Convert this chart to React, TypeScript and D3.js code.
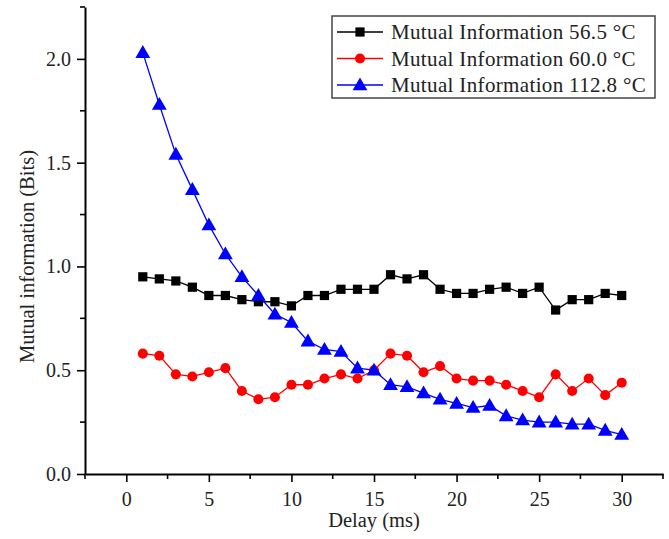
import React, { useEffect, useRef } from "react";
import * as d3 from "d3";

const delays = [1, 2, 3, 4, 5, 6, 7, 8, 9, 10, 11, 12, 13, 14, 15, 16, 17, 18, 19, 20, 21, 22, 23, 24, 25, 26, 27, 28, 29, 30];

const mi565 = [0.95, 0.94, 0.93, 0.9, 0.86, 0.86, 0.84, 0.83, 0.83, 0.81, 0.86, 0.86, 0.89, 0.89, 0.89, 0.96, 0.94, 0.96, 0.89, 0.87, 0.87, 0.89, 0.9, 0.87, 0.9, 0.79, 0.84, 0.84, 0.87, 0.86];
const mi600 = [0.58, 0.57, 0.48, 0.47, 0.49, 0.51, 0.4, 0.36, 0.37, 0.43, 0.43, 0.46, 0.48, 0.46, 0.5, 0.58, 0.57, 0.49, 0.52, 0.46, 0.45, 0.45, 0.43, 0.4, 0.37, 0.48, 0.4, 0.46, 0.38, 0.44];
const mi1128 = [2.03, 1.78, 1.54, 1.37, 1.2, 1.06, 0.95, 0.86, 0.77, 0.73, 0.64, 0.6, 0.59, 0.51, 0.5, 0.43, 0.42, 0.39, 0.36, 0.34, 0.32, 0.33, 0.28, 0.26, 0.25, 0.25, 0.24, 0.24, 0.21, 0.19];

const seriesNames = ["Mutual Information 56.5 °C", "Mutual Information 60.0 °C", "Mutual Information 112.8 °C"];
const seriesColors = ["#000000", "#ff0000", "#0000ff"];
const seriesSymbols = [d3.symbolSquare, d3.symbolCircle, d3.symbolTriangle];
const seriesSizes = [85, 80, 95];

const xMajor = [0, 5, 10, 15, 20, 25, 30];
const xMinor = [-2.5, 2.5, 7.5, 12.5, 17.5, 22.5, 27.5, 32.5];
const yMajor = [0, 0.5, 1.0, 1.5, 2.0];
const yMinor = [0.25, 0.75, 1.25, 1.75, 2.25];

const W = 669;
const H = 539;
const FONT = "'Liberation Serif', 'Times New Roman', serif";

export default function App() {
  const svgRef = useRef<SVGSVGElement>(null);

  useEffect(() => {
    const svg = d3.select(svgRef.current);
    svg.selectAll("*").remove();

    const x = d3.scaleLinear().domain([-2.5, 32.5]).range([85, 663]);
    const y = d3.scaleLinear().domain([0, 2.25]).range([474, 7]);

    // axes
    const xAxis = svg.append("g").attr("transform", `translate(0,${y(0)})`);
    xAxis.call(d3.axisBottom(x).tickValues(xMajor).tickSize(8).tickSizeOuter(0).tickFormat(d3.format("d")));
    xMinor.forEach((v) => {
      xAxis.append("line").attr("x1", x(v)).attr("x2", x(v)).attr("y1", 0).attr("y2", 5).attr("stroke", "#000").attr("stroke-width", 1.6);
    });

    const yAxis = svg.append("g").attr("transform", `translate(${x(-2.5)},0)`);
    yAxis.call(d3.axisLeft(y).tickValues(yMajor).tickSize(8).tickSizeOuter(0).tickFormat(d3.format(".1f")));
    yMinor.forEach((v) => {
      yAxis.append("line").attr("x1", 0).attr("x2", -5).attr("y1", y(v)).attr("y2", y(v)).attr("stroke", "#000").attr("stroke-width", 1.6);
    });

    svg.selectAll(".domain").attr("stroke", "#000").attr("stroke-width", 2);
    svg.selectAll(".tick line").attr("stroke", "#000").attr("stroke-width", 1.6);
    svg.selectAll(".tick text").attr("font-family", FONT).attr("font-size", 20).attr("fill", "#222");
    xAxis.selectAll(".tick text").attr("dy", "1.05em");
    yAxis.selectAll(".tick text").attr("dx", "-0.15em");

    // axis titles
    svg.append("text")
      .attr("x", (x(-2.5) + x(32.5)) / 2)
      .attr("y", 527)
      .attr("text-anchor", "middle")
      .attr("font-family", FONT)
      .attr("font-size", 20.5)
      .attr("fill", "#222")
      .text("Delay (ms)");

    svg.append("text")
      .attr("transform", `translate(34,${(y(0) + y(2.25)) / 2 + 16}) rotate(-90)`)
      .attr("text-anchor", "middle")
      .attr("font-family", FONT)
      .attr("font-size", 20.5)
      .attr("fill", "#222")
      .text("Mutual information (Bits)");

    // series
    const allSeries = [mi565, mi600, mi1128];
    const line = d3.line<number>().x((_, i) => x(delays[i])).y((d) => y(d));

    allSeries.forEach((vals, s) => {
      svg.append("path")
        .attr("d", line(vals))
        .attr("fill", "none")
        .attr("stroke", seriesColors[s])
        .attr("stroke-width", 1.3);

      const sym = d3.symbol().type(seriesSymbols[s]).size(seriesSizes[s]);
      svg.append("g")
        .selectAll("path")
        .data(vals)
        .enter()
        .append("path")
        .attr("d", sym)
        .attr("transform", (d, i) => `translate(${x(delays[i])},${y(d) + (s === 2 ? 1 : 0)})`)
        .attr("fill", seriesColors[s]);
    });

    // legend
    const lg = svg.append("g").attr("transform", "translate(332,16)");
    lg.append("rect").attr("width", 323).attr("height", 82).attr("fill", "#fff").attr("stroke", "#444").attr("stroke-width", 1.5);
    seriesNames.forEach((name, s) => {
      const cy = 16 + s * 26.5;
      lg.append("line").attr("x1", 5).attr("x2", 51).attr("y1", cy).attr("y2", cy).attr("stroke", seriesColors[s]).attr("stroke-width", 1.3);
      lg.append("path")
        .attr("d", d3.symbol().type(seriesSymbols[s]).size(seriesSizes[s])())
        .attr("transform", `translate(28,${cy + (s === 2 ? 1 : 0)})`)
        .attr("fill", seriesColors[s]);
      lg.append("text")
        .attr("x", 59)
        .attr("y", cy)
        .attr("dy", "0.35em")
        .attr("font-family", FONT)
        .attr("font-size", 21)
        .attr("letter-spacing", 0.35)
        .attr("fill", "#222")
        .text(name);
    });
  }, []);

  return (
    <svg
      ref={svgRef}
      width={W}
      height={H}
      style={{ position: "absolute", left: 0, top: 0, background: "#fff" }}
    />
  );
}
